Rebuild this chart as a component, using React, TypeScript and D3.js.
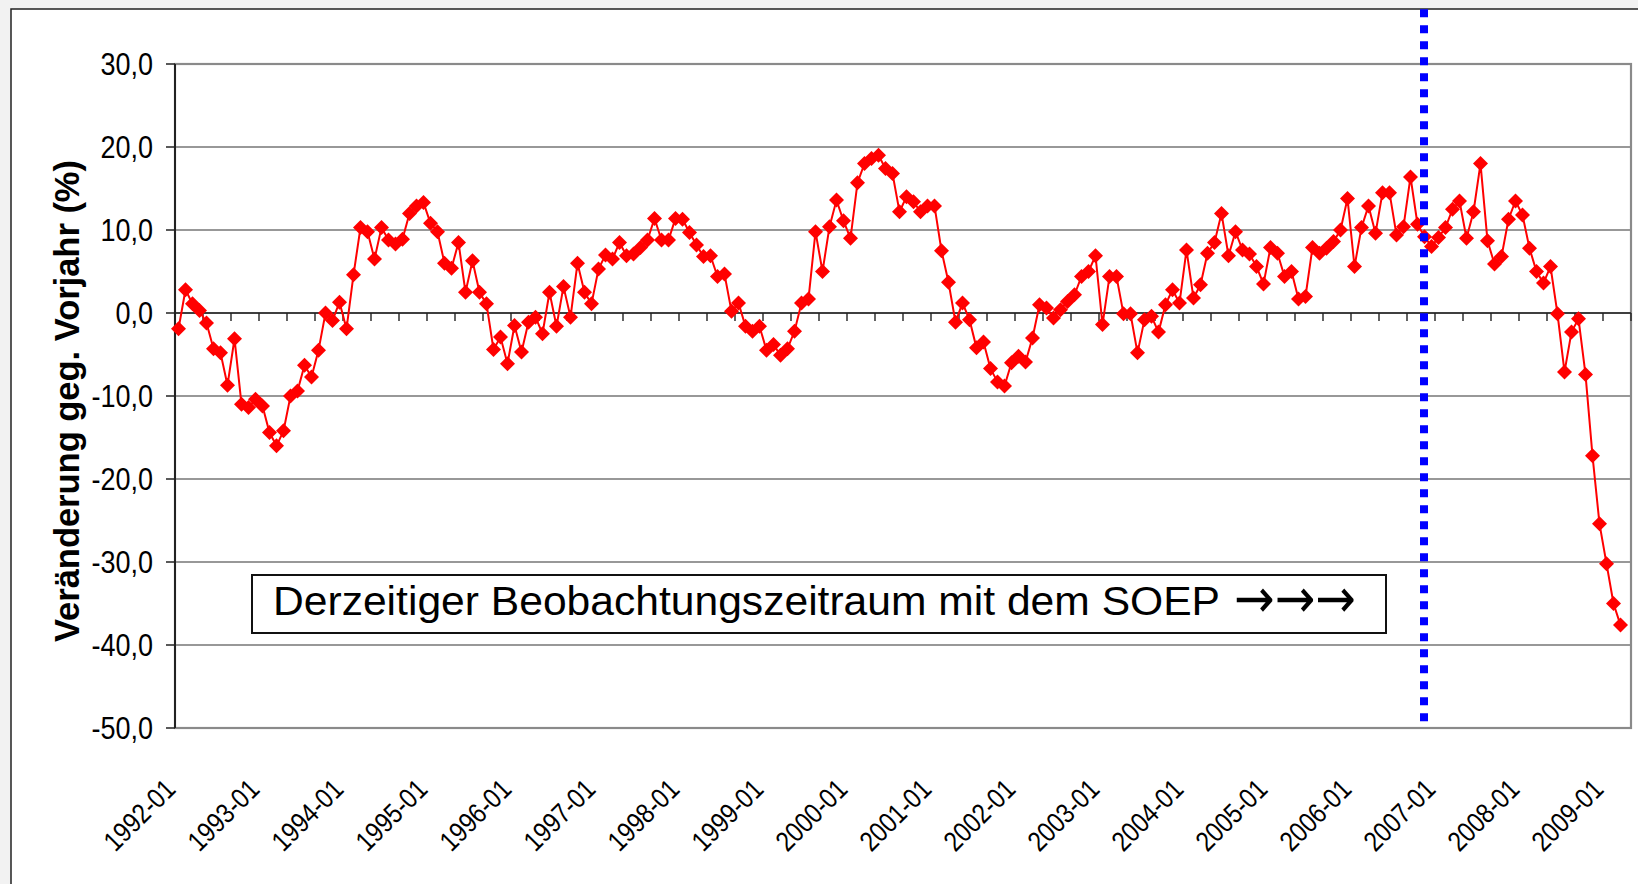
import React from "react";
import * as d3 from "d3";

const startYear = 1992;
const monthCount = 208; // 1992-01 .. 2009-04
const categories: string[] = Array.from({ length: monthCount }, (_, i) => {
  const y = startYear + Math.floor(i / 12);
  const m = (i % 12) + 1;
  return `${y}-${m < 10 ? "0" + m : m}`;
});

const values: number[] = [
  -1.9, 2.8, 1.1, 0.3, -1.2, -4.3, -4.8, -8.7, -3.1, -11.0, -11.4, -10.4,
  -11.2, -14.4, -16.0, -14.2, -10.0, -9.4, -6.3, -7.7, -4.5, 0.0, -0.9, 1.3,
  -1.9, 4.6, 10.3, 9.8, 6.5, 10.3, 8.8, 8.3, 8.9, 12.0, 12.9, 13.3,
  10.8, 9.8, 6.0, 5.4, 8.5, 2.5, 6.3, 2.5, 1.1, -4.4, -2.9, -6.1,
  -1.5, -4.7, -1.1, -0.5, -2.5, 2.5, -1.6, 3.2, -0.5, 6.0, 2.5, 1.1,
  5.3, 7.0, 6.5, 8.5, 6.9, 7.1, 7.9, 8.8, 11.4, 8.8, 8.8, 11.4,
  11.3, 9.7, 8.2, 6.8, 6.9, 4.4, 4.7, 0.2, 1.2, -1.6, -2.2, -1.6,
  -4.5, -3.8, -5.1, -4.3, -2.2, 1.2, 1.7, 9.8, 5.0, 10.4, 13.6, 11.1,
  9.0, 15.7, 18.0, 18.6, 19.0, 17.4, 16.8, 12.2, 14.0, 13.4, 12.2, 12.9,
  12.9, 7.5, 3.7, -1.1, 1.2, -0.8, -4.2, -3.5, -6.7, -8.3, -8.8, -6.0,
  -5.2, -5.9, -3.0, 1.0, 0.6, -0.6, 0.4, 1.4, 2.2, 4.4, 5.0, 6.9,
  -1.4, 4.4, 4.4, -0.1, -0.1, -4.8, -0.8, -0.4, -2.3, 1.0, 2.8, 1.2,
  7.6, 1.8, 3.4, 7.2, 8.5, 12.0, 6.9, 9.8, 7.6, 7.1, 5.6, 3.5,
  7.9, 7.2, 4.4, 5.0, 1.7, 2.0, 7.9, 7.2, 7.8, 8.6, 10.0, 13.8,
  5.6, 10.3, 12.9, 9.6, 14.5, 14.5, 9.4, 10.4, 16.4, 10.7, 9.2, 8.0,
  9.1, 10.3, 12.5, 13.5, 9.0, 12.2, 18.0, 8.7, 5.9, 6.8, 11.3, 13.5,
  11.8, 7.8, 5.0, 3.6, 5.6, -0.1, -7.1, -2.3, -0.7, -7.4, -17.2, -25.4,
  -30.2, -35.0, -37.6,
];

const yTicks: number[] = [30, 20, 10, 0, -10, -20, -30, -40, -50];
const xLabelCategories: string[] = categories.filter((c) => c.endsWith("-01"));
const markerMonth = "2006-11";
const yTitle = "Veränderung geg. Vorjahr (%)";
const boxText = "Derzeitiger Beobachtungszeitraum mit dem SOEP";
const boxArrows = "→→→";

const fmt = (v: number) => v.toFixed(1).replace(".", ",");

export default function App() {
  const W = 1638;
  const H = 884;
  const left = 175;
  const right = 1631;
  const top = 64;
  const bottom = 728;

  const x = d3.scaleBand<string>().domain(categories).range([left, right]).padding(0);
  const bw = x.bandwidth();
  const cx = (c: string) => (x(c) as number) + bw / 2;
  const y = d3.scaleLinear().domain([-50, 30]).range([bottom, top]);

  const pts = values.map((v, i) => ({ c: categories[i], v }));
  const line = d3
    .line<{ c: string; v: number }>()
    .x((d) => cx(d.c))
    .y((d) => y(d.v));

  const diamond = (px: number, py: number, r: number) =>
    `M${px},${py - r}L${px + r},${py}L${px},${py + r}L${px - r},${py}Z`;

  const xTickCats = categories.filter((_, i) => i % 4 === 0);
  const markerX = (x(markerMonth) as number) + 3;
  const font = "'Liberation Sans', Arial, sans-serif";

  return (
    <svg
      width={W}
      height={H}
      style={{ position: "absolute", left: 0, top: 0, background: "#f2f2f2" }}
      fontFamily={font}
    >
      <rect x={11} y={9} width={1700} height={1000} fill="#fff" stroke="#222" strokeWidth={1.5} />

      {/* gridlines */}
      {yTicks
        .filter((t) => t !== 30 && t !== -50)
        .map((t) => (
          <line key={"g" + t} x1={left} x2={right} y1={y(t)} y2={y(t)} stroke="#333" strokeWidth={1.2} />
        ))}
      {/* plot border */}
      <rect x={left} y={top} width={right - left} height={bottom - top} fill="none" stroke="#8a8a8a" strokeWidth={2.2} />

      {/* y axis */}
      <line x1={left} x2={left} y1={top} y2={bottom} stroke="#222" strokeWidth={2} />
      {yTicks.map((t) => (
        <line key={"yt" + t} x1={left - 9} x2={left} y1={y(t)} y2={y(t)} stroke="#222" strokeWidth={1.5} />
      ))}
      {yTicks.map((t) => (
        <text
          key={"yl" + t}
          transform={`translate(153,${y(t) + 11}) scale(0.87,1)`}
          textAnchor="end"
          fontSize={31}
          fill="#000"
        >
          {fmt(t)}
        </text>
      ))}

      {/* x axis at zero */}
      <line x1={left} x2={right} y1={y(0)} y2={y(0)} stroke="#222" strokeWidth={1.6} />
      {xTickCats.map((c) => (
        <line key={"xt" + c} x1={x(c) as number} x2={x(c) as number} y1={y(0)} y2={y(0) + 8} stroke="#222" strokeWidth={1.4} />
      ))}
      <line x1={right} x2={right} y1={y(0)} y2={y(0) + 8} stroke="#222" strokeWidth={1.4} />

      {/* x labels */}
      {xLabelCategories.map((c) => (
        <text
          key={"xl" + c}
          transform={`translate(${cx(c) - 1.5},791) rotate(-45) scale(0.85,1)`}
          textAnchor="end"
          fontSize={28}
          fill="#000"
        >
          {c}
        </text>
      ))}

      {/* y title */}
      <text
        transform="translate(79,401) rotate(-90)"
        textAnchor="middle"
        fontSize={35}
        fontWeight="bold"
        textLength={482}
        lengthAdjust="spacingAndGlyphs"
        fill="#000"
      >
        {yTitle}
      </text>

      {/* annotation box */}
      <rect x={252} y={575} width={1134} height={58} fill="#fff" stroke="#111" strokeWidth={2} />
      <text x={273} y={615} fontSize={41} textLength={947} lengthAdjust="spacingAndGlyphs" fill="#000">
        {boxText}
      </text>
      <text
        x={1234}
        y={617}
        fontSize={54}
        fontFamily="'DejaVu Sans', sans-serif"
        textLength={122}
        lengthAdjust="spacingAndGlyphs"
        fill="#000"
      >
        {boxArrows}
      </text>

      {/* series */}
      <path d={line(pts) || ""} fill="none" stroke="#ff0000" strokeWidth={2} />
      {pts.map((p) => (
        <path key={"m" + p.c} d={diamond(cx(p.c), y(p.v), 7.5)} fill="#ff0000" />
      ))}

      {/* vertical dotted marker */}
      <line x1={markerX} x2={markerX} y1={9.3} y2={721.3} stroke="#0000ff" strokeWidth={8} strokeDasharray="8 8" />
    </svg>
  );
}
